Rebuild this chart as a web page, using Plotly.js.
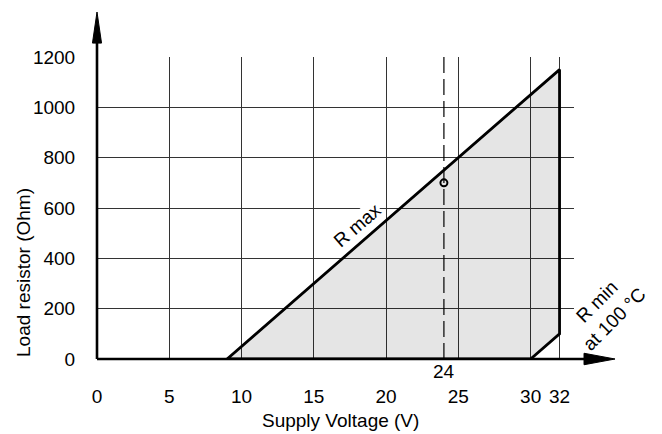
<!DOCTYPE html>
<html>
<head>
<meta charset="utf-8">
<script src="https://cdn.plot.ly/plotly-3.0.1.min.js"></script>
<style>html,body{margin:0;padding:0;background:#fff;}#chart{width:662px;height:434px;}</style>
</head>
<body>
<div id="chart"></div>
<script>
// ---- data ----
const rmaxVoltage = [9, 32];        // V
const rmaxResistance = [0, 1150];   // Ohm
const rminVoltage = [30, 32];       // V
const rminResistance = [0, 100];    // Ohm (R min at 100 °C)
const pointVoltage = [24];
const pointResistance = [700];
const markerVoltage = 24;
const xTickVals = [0, 5, 10, 15, 20, 25, 30, 32];
const xTickText = ['0', '5', '10', '15', '20', '25', '30', '32'];
const yTickVals = [0, 200, 400, 600, 800, 1000, 1200];
const xMax = 33;
const yMax = 1200;

const FONT = 'Liberation Sans, Arial, Helvetica, sans-serif';

// operating area polygon built from the two limit lines
const areaX = rmaxVoltage.concat([rminVoltage[1], rminVoltage[0], rmaxVoltage[0]]);
const areaY = rmaxResistance.concat([rminResistance[1], rminResistance[0], rmaxResistance[0]]);

const traces = [
  {
    x: areaX, y: areaY, mode: 'lines', fill: 'toself',
    fillcolor: 'rgba(0,0,0,0.10)',
    line: {color: '#000', width: 2.8}, hoverinfo: 'skip'
  },
  {
    x: [markerVoltage, markerVoltage], y: [0, yMax], mode: 'lines',
    line: {color: '#000', width: 1.2, dash: '16px,6px'}, hoverinfo: 'skip'
  },
  {
    x: pointVoltage, y: pointResistance, mode: 'markers',
    marker: {symbol: 'circle-open', size: 7, color: '#000', line: {width: 2, color: '#000'}}
  }
];

const layout = {
  width: 662, height: 434,
  margin: {l: 97, r: 88, t: 57, b: 75, pad: 0},
  paper_bgcolor: '#fff', plot_bgcolor: '#fff',
  showlegend: false,
  font: {family: FONT, size: 19, color: '#000'},
  xaxis: {
    range: [0, xMax],
    tickmode: 'array',
    tickvals: xTickVals.concat([xMax]),
    ticktext: xTickText.concat(['']),
    showgrid: true, gridcolor: '#333', gridwidth: 1,
    zeroline: false, showline: false,
    ticks: 'outside', ticklen: 20, tickcolor: 'rgba(0,0,0,0)',
    tickfont: {family: FONT, size: 19, color: '#000'},
    fixedrange: true
  },
  yaxis: {
    range: [0, yMax],
    tickmode: 'array', tickvals: yTickVals,
    showgrid: true, gridcolor: '#333', gridwidth: 1,
    zeroline: false, showline: false,
    ticks: 'outside', ticklen: 17, tickcolor: 'rgba(0,0,0,0)',
    tickfont: {family: FONT, size: 19, color: '#000'},
    fixedrange: true
  },
  shapes: [
    // axis lines with arrows
    {type: 'line', xref: 'paper', yref: 'paper', x0: 0, y0: 0, x1: 1.025, y1: 0,
     line: {color: '#000', width: 2.6}, layer: 'above'},
    {type: 'line', xref: 'paper', yref: 'paper', x0: 0, y0: 0, x1: 0, y1: 1.05,
     line: {color: '#000', width: 2.6}, layer: 'above'},
    {type: 'path', xref: 'paper', yref: 'paper', layer: 'above',
     path: 'M 1.021 -0.019 L 1.086 0 L 1.021 0.019 Z',
     fillcolor: '#000', line: {color: '#000', width: 1}},
    {type: 'path', xref: 'paper', yref: 'paper', layer: 'above',
     path: 'M -0.0095 1.046 L 0 1.149 L 0.0095 1.046 Z',
     fillcolor: '#000', line: {color: '#000', width: 1}}
  ],
  annotations: [
    {x: markerVoltage, y: 0, xref: 'x', yref: 'y', text: String(markerVoltage),
     showarrow: false, xanchor: 'center', yanchor: 'middle', yshift: -12,
     font: {family: FONT, size: 19, color: '#000'}},
    {x: 18, y: 530, xref: 'x', yref: 'y', text: 'R max', showarrow: false,
     xanchor: 'center', yanchor: 'middle',
     textangle: -41, bgcolor: '#fff', borderpad: 0,
     font: {family: FONT, size: 19, color: '#000'}},
    {x: 1.065, y: 0.16, xref: 'paper', yref: 'paper', text: 'R min<br>at 100 °C',
     showarrow: false, textangle: -45, align: 'center', xanchor: 'center', yanchor: 'middle',
     font: {family: FONT, size: 19, color: '#000'}},
    {x: 0.5115, y: -0.205, xref: 'paper', yref: 'paper', text: 'Supply Voltage (V)',
     showarrow: false, xanchor: 'center', yanchor: 'middle',
     font: {family: FONT, size: 19, color: '#000'}},
    {x: -0.153, y: 0.285, xref: 'paper', yref: 'paper', text: 'Load resistor (Ohm)',
     showarrow: false, textangle: -90, xanchor: 'center', yanchor: 'middle',
     font: {family: FONT, size: 19, color: '#000'}}
  ]
};

Plotly.newPlot('chart', traces, layout, {displayModeBar: false, staticPlot: true});
</script>
</body>
</html>
